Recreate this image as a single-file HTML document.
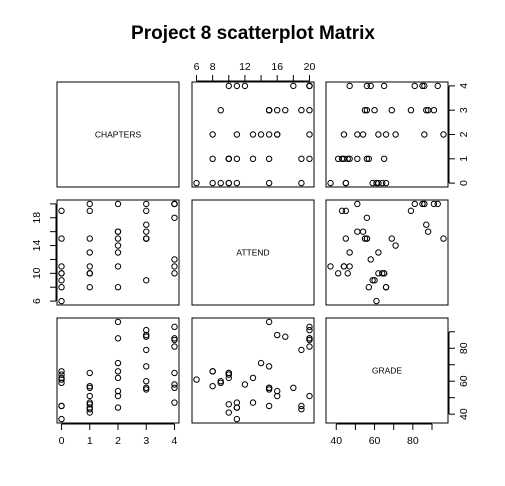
<!DOCTYPE html>
<html><head><meta charset="utf-8">
<style>
body{margin:0;background:#fff;}
svg text{font-family:"Liberation Sans",Arial,sans-serif;}
</style></head>
<body>
<svg id="chart" width="505" height="481" viewBox="0 0 505 481" xmlns="http://www.w3.org/2000/svg">
<text x="253" y="39" text-anchor="middle" font-size="19" font-weight="bold">Project 8 scatterplot Matrix</text>
</svg>
<script>
const varNames = ["CHAPTERS","ATTEND","GRADE"];
const chapters = [0,0,0,0,0,0,0,0, 1,1,1,1,1,1,1,1,1, 2,2,2,2,2,2,2,2, 3,3,3,3,3,3,3,3, 4,4,4,4,4,4,4,4];
const attend   = [6,8,9,10,10,11,15,19, 8,10,10,10,11,13,15,19,20, 8,11,13,14,15,16,16,20, 9,15,15,15,16,17,19,20, 10,11,12,18,20,20,20,20];
const grade    = [61,66,59,62,64,37,45,45, 57,41,46,65,44,47,56,43,51, 66,44,62,71,96,54,51,86, 60,55,56,69,88,87,79,91, 65,47,58,56,81,85,86,93];
const ticksChapters = [0,1,2,3,4];
const ticksAttend = [6,8,10,12,14,16,18,20];
const labelsAttend = [6,8,12,16,20];
const labelsAttendLeft = [6,10,14,18];
const ticksGrade = [40,50,60,70,80,90];
const labelsGrade = [40,60,80];

const NS="http://www.w3.org/2000/svg";
const svg=document.getElementById('chart');
const cols=[57,192,326], rows=[82,200,318], W=122, H=105;
const data=[chapters,attend,grade];
function rng(a){const mn=Math.min(...a),mx=Math.max(...a),p=(mx-mn)*0.04;return [mn-p,mx+p];}
const ranges=data.map(rng);
function sx(v,i,c){const r=ranges[v];return cols[c]+(i-r[0])/(r[1]-r[0])*W;}
function sy(v,i,rw){const r=ranges[v];return rows[rw]+H-(i-r[0])/(r[1]-r[0])*H;}
function mk(t,a){const e=document.createElementNS(NS,t);for(const k in a)e.setAttribute(k,a[k]);svg.appendChild(e);return e;}

for(let r=0;r<3;r++)for(let c=0;c<3;c++){
  const box=mk('rect',{x:cols[c],y:rows[r],width:W,height:H,fill:'none',stroke:'#000','stroke-width':1});
  
  
  if(r===c){
    const t=mk('text',{x:cols[c]+W/2,y:rows[r]+H/2+3,'text-anchor':'middle','font-size':'8.5'});
    t.textContent=varNames[r];
    
    
    continue;
  }
  for(let k=0;k<chapters.length;k++){
    const p=mk('circle',{cx:sx(c,data[c][k],c),cy:sy(r,data[r][k],r),r:2.7,fill:'none',stroke:'#000','stroke-width':1});
    
    
  }
}
function axis(side,v,idx,ticks,labels){
  const g=mk('g',{});
  
  
  function ln(a){const e=document.createElementNS(NS,'line');for(const k in a)e.setAttribute(k,a[k]);e.setAttribute('stroke','#000');g.appendChild(e);}
  function tx(x,y,s,rot){const e=document.createElementNS(NS,'text');e.setAttribute('x',x);e.setAttribute('y',y);e.setAttribute('font-size','10.5');e.setAttribute('text-anchor','middle');if(rot)e.setAttribute('transform','rotate(-90 '+x+' '+y+')');e.textContent=s;g.appendChild(e);}
  if(side==='top'||side==='bottom'){
    const ps=ticks.map(t=>sx(v,t,idx));
    const y0=side==='top'?rows[0]-1:rows[2]+H+1, d=side==='top'?-6:6;
    ln({x1:ps[0],x2:ps[ps.length-1],y1:y0,y2:y0});
    ps.forEach(x=>ln({x1:x,x2:x,y1:y0,y2:y0+d}));
    labels.forEach(l=>tx(sx(v,l,idx),side==='top'?y0-11:y0+20,String(l),false));
  } else {
    const ps=ticks.map(t=>sy(v,t,idx));
    const x0=side==='left'?cols[0]-1:cols[2]+W+1, d=side==='left'?-6:6;
    ln({y1:ps[0],y2:ps[ps.length-1],x1:x0,x2:x0});
    ps.forEach(y=>ln({y1:y,y2:y,x1:x0,x2:x0+d}));
    labels.forEach(l=>tx(side==='left'?x0-16:x0+18,sy(v,l,idx),String(l),true));
  }
  svg.appendChild(g);
}
axis('top',1,1,ticksAttend,labelsAttend);
axis('right',0,0,ticksChapters,ticksChapters);
axis('left',1,1,ticksAttend,labelsAttendLeft);
axis('right',2,2,ticksGrade,labelsGrade);
axis('bottom',0,0,ticksChapters,ticksChapters);
axis('bottom',2,2,ticksGrade,labelsGrade);
</script>
</body></html>
